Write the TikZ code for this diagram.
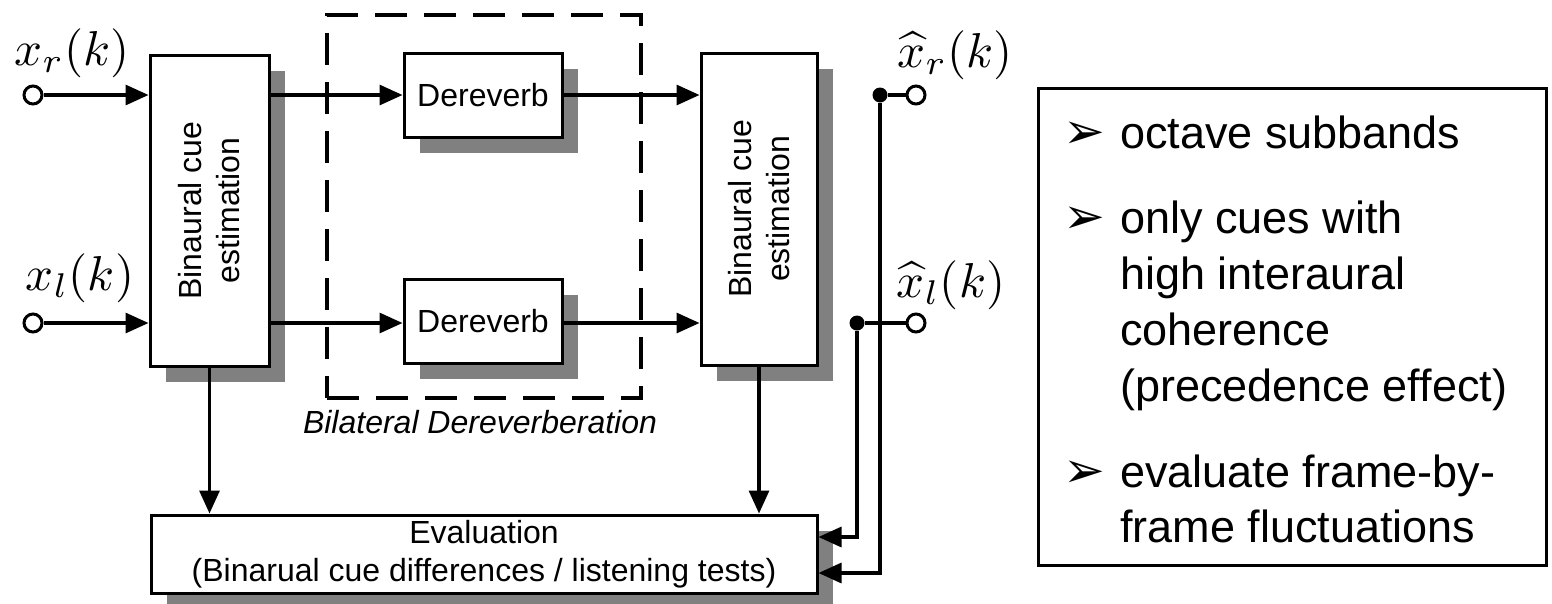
\documentclass[tikz,border=0pt]{standalone}
\usepackage{fontspec}
\setmainfont{Liberation Sans}
\newfontfamily\dvfont{DejaVu Sans}
\usetikzlibrary{arrows.meta,shadows}
\pgfdeclarelayer{bg}
\pgfsetlayers{bg,main}
\definecolor{shgray}{HTML}{808080}
\begin{document}
\begin{tikzpicture}[x=1pt,y=-1pt,
  ln/.style={line width=3.2pt},
  arr/.style={line width=3.2pt,-{Triangle[length=23pt,width=20pt]}},
  blk/.style={draw,line width=3pt,fill=white,inner sep=0pt,
    drop shadow={shadow xshift=16pt,shadow yshift=-16pt,fill=shgray,draw=none,opacity=1}},
  term/.style={circle,draw,line width=3pt,fill=white,minimum size=18pt,inner sep=0pt},
  jdot/.style={circle,fill=black,minimum size=15pt,inner sep=0pt},
  boxtxt/.style={font=\fontsize{32}{38}\selectfont,align=center,inner sep=0pt},
  sig/.style={anchor=base,scale=4.9,inner sep=0pt},
  note/.style={anchor=base west,font=\fontsize{45}{56}\selectfont,inner sep=0pt},
  bul/.style={anchor=base east,font=\dvfont\fontsize{50}{56}\selectfont,inner sep=0pt}]
\useasboundingbox[fill=white] (0,0) rectangle (1552,603);

% dashed group
\node[draw,line width=4pt,dash pattern=on 32pt off 17pt,minimum width=314pt,minimum height=383pt,inner sep=0pt] (bil) at (484,206.5) {};
\node[anchor=base,font=\fontsize{32}{38}\selectfont\itshape,inner sep=0pt] (biltxt) at (480,433) {Bilateral Dereverberation};

% blocks
\node[blk,minimum width=119pt,minimum height=311pt] (bce1) at (209.5,210.5) {};
\node[boxtxt,rotate=90] at (bce1.center) {Binaural cue\\estimation};
\node[blk,minimum width=158pt,minimum height=84pt] (der1) at (483,95) {};
\node[boxtxt] at (der1.center) {Dereverb};
\node[blk,minimum width=158pt,minimum height=84pt] (der2) at (483,321) {};
\node[boxtxt] at (der2.center) {Dereverb};
\node[blk,minimum width=116pt,minimum height=312pt] (bce2) at (759,209) {};
\node[boxtxt,rotate=90] at (bce2.center) {Binaural cue\\estimation};
\node[blk,minimum width=666pt,minimum height=78pt] (ev) at (484,554) {};
\node[boxtxt] at (ev.center) {Evaluation\\(Binarual cue differences / listening tests)};

% terminals and junctions
\node[term] (inr) at (33,95) {};
\node[term] (inl) at (33,323) {};
\node[jdot] (jr) at (880,95) {};
\node[jdot] (jl) at (857,323) {};
\node[term] (outr) at (916,95) {};
\node[term] (outl) at (916,323) {};

% signal labels
\node[sig] at (72,65) {$x_r(k)$};
\node[sig] at (80,290) {$x_l(k)$};
\node[sig] at (955,67) {$\widehat{x}_r(k)$};
\node[sig] at (951,297) {$\widehat{x}_l(k)$};

% connectors
\draw[arr] (inr) -- (inr -| bce1.west);
\draw[arr] (inl) -- (inl -| bce1.west);
\draw[arr] (bce1.east |- der1.west) -- (der1.west);
\draw[arr] (bce1.east |- inl) -- (inl -| der2.west);
\draw[arr] (der1.east) -- (der1.east -| bce2.west);
\draw[arr] (der2.east |- inl) -- (inl -| bce2.west);
\begin{pgfonlayer}{bg}
\draw[ln] (bce2.east |- jr) -- (jr);
\draw[ln] (bce2.east |- jl) -- (jl);
\end{pgfonlayer}
\draw[ln] (jr) -- (outr);
\draw[ln] (jl) -- (outl);
\draw[arr] (bce1.south) -- (bce1.south |- ev.north);
\draw[arr] (bce2.south) -- (bce2.south |- ev.north);
\coordinate (cl) at (857,537);
\coordinate (cr) at (880,573);
\draw[arr] (jl) -- (cl) -- (cl -| ev.east);
\draw[arr] (jr) -- (cr) -- (cr -| ev.east);

% notes box
\node[draw,line width=3pt,minimum width=508pt,minimum height=477pt,inner sep=0pt] (notes) at (1292,326.5) {};
\node[bul] at (1106,148) {➢};
\node[note] at (1120,148) {octave subbands};
\node[bul] at (1106,233) {➢};
\node[note] at (1120,233) {only cues with};
\node[note] at (1120,289) {high interaural};
\node[note] at (1120,345) {coherence};
\node[note] at (1120,401) {(precedence effect)};
\node[bul] at (1106,487) {➢};
\node[note] at (1120,487) {evaluate frame-by-};
\node[note] at (1120,542) {frame fluctuations};
\end{tikzpicture}
\end{document}
